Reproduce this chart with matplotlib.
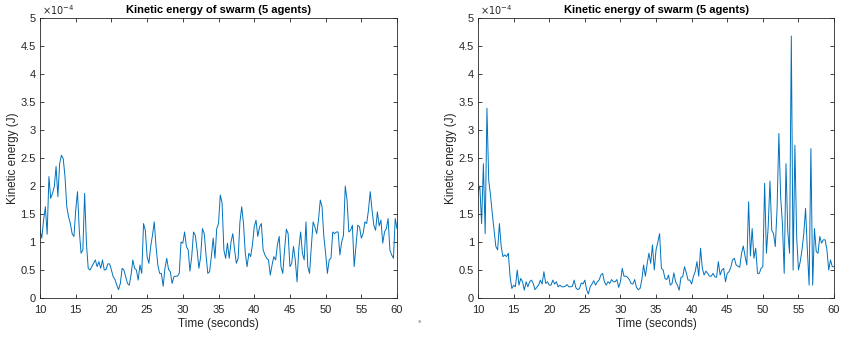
import numpy as np
import matplotlib
matplotlib.use("Agg")
import matplotlib.pyplot as plt
from matplotlib.ticker import FuncFormatter

# kinetic energy in units of 1e-4 J, sampled every 0.25 s from 10 s to 60 s
ke_left = [
    1.21, 1.07, 1.39, 1.63, 1.14, 2.17, 1.78, 1.87, 1.99, 2.35, 1.81, 2.4, 2.55,
    2.49, 2.17, 1.63, 1.45, 1.33, 1.15, 1.1, 1.57, 1.9, 1.21, 0.8, 0.86, 1.87,
    0.98, 0.53, 0.5, 0.56, 0.62, 0.68, 0.56, 0.65, 0.53, 0.68, 0.5, 0.51, 0.61,
    0.61, 0.5, 0.38, 0.33, 0.23, 0.15, 0.26, 0.53, 0.5, 0.38, 0.26, 0.23, 0.41,
    0.68, 0.53, 0.5, 0.32, 0.59, 0.44, 1.33, 1.21, 0.74, 0.62, 0.92, 1.12, 1.36,
    0.92, 0.59, 0.44,
    0.44, 0.21, 0.53, 0.71, 0.51, 0.47, 0.26, 0.38, 0.39, 0.39, 0.44, 1.0,
    0.98, 1.18, 0.92, 0.86, 0.48, 0.74, 1.18, 1.12, 0.86, 0.53, 0.74, 1.24,
    1.15, 0.77, 0.44, 0.47, 0.74, 1.07, 0.71, 1.24, 1.33, 1.84, 1.7, 0.86,
    0.71, 0.98, 0.71, 1.0, 1.15, 0.86, 0.62, 0.71, 1.36, 1.63, 1.33, 0.8,
    0.56, 0.8, 0.74, 0.95, 1.27, 1.39, 1.1, 1.27, 1.33, 0.86, 0.77, 0.71,
    0.68, 0.41, 0.59, 0.74, 0.68, 0.95, 1.1,
    0.56, 0.44, 0.86, 1.23, 1.15, 0.56, 0.62, 0.92, 0.68, 0.29, 0.89, 1.18, 0.8,
    0.68, 1.36, 0.56, 0.44, 0.92, 1.36, 1.27, 1.15, 1.39, 1.75, 1.63, 1.1,
    0.8, 0.44, 0.68, 0.71, 1.18, 1.15, 1.18, 1.18, 0.77, 1.0, 1.12, 2.0,
    1.75, 1.18, 1.21, 1.3, 0.56, 0.92, 1.3, 1.27, 1.07, 1.15, 1.36, 1.33,
    1.57, 1.9, 1.57, 1.3, 1.21, 1.54, 1.29, 1.39, 0.98, 1.18, 1.24, 1.42,
    0.86, 0.77, 0.71, 1.42, 1.24,
]

ke_right = [
    1.9, 2.0, 1.33, 2.4, 1.15, 3.39, 2.1, 1.84, 1.51, 1.21, 0.92, 0.86,
    1.33, 0.92, 0.74, 0.77, 0.74, 0.8, 0.38, 0.17, 0.23, 0.2, 0.5, 0.23,
    0.35, 0.29, 0.14, 0.29, 0.2, 0.29, 0.32, 0.26, 0.15, 0.19, 0.23, 0.32,
    0.25, 0.47, 0.26, 0.29, 0.23, 0.23, 0.32, 0.25, 0.29, 0.2, 0.23, 0.2,
    0.2, 0.21, 0.24, 0.2, 0.2, 0.21, 0.32, 0.18, 0.15, 0.17, 0.27, 0.25,
    0.32, 0.15, 0.07, 0.2, 0.25, 0.31,
    0.23, 0.29, 0.32, 0.41, 0.44, 0.29, 0.23, 0.29, 0.26, 0.33, 0.29, 0.29,
    0.33, 0.19, 0.29, 0.53, 0.39, 0.39, 0.37, 0.33, 0.26, 0.25, 0.33, 0.19,
    0.15, 0.17, 0.32, 0.59, 0.39, 0.61, 0.8, 0.62, 0.95, 0.5, 0.86, 1.0,
    1.15, 0.53, 0.5, 0.35, 0.33, 0.41, 0.23, 0.26, 0.45, 0.29, 0.23, 0.14,
    0.37, 0.38, 0.56, 0.45, 0.32, 0.32, 0.25, 0.39, 0.47, 0.65, 0.39, 0.89,
    0.53, 0.41, 0.48, 0.44, 0.39, 0.39, 0.44, 0.38, 0.37, 0.65,
    0.41, 0.5, 0.53, 0.29, 0.44, 0.47, 0.55, 0.68, 0.71, 0.59, 0.57, 0.55,
    0.79, 0.93, 0.75, 0.59, 1.72, 0.75, 1.24, 0.71, 0.89, 0.44, 0.44, 0.53,
    0.56, 2.05, 0.8, 1.27, 2.09, 1.21, 1.15, 0.92, 1.6, 2.94, 1.81, 1.33,
    0.44, 2.4, 1.2, 0.8, 4.68, 0.5, 2.73, 1.1, 0.5, 0.65, 0.86, 1.15,
    1.6, 0.86, 0.23, 2.67, 0.23, 1.24, 0.83, 0.8, 1.1, 0.98, 1.04, 1.04,
    0.86, 0.5, 0.68, 0.56, 0.56,
]

t_start, t_end = 10, 60
title = "Kinetic energy of swarm (5 agents)"

plt.rcParams['font.family'] = ['Liberation Sans', 'DejaVu Sans']
dark = "#262626"
blue = "#0072BD"

fig = plt.figure(figsize=(8.44, 3.38), dpi=100)
ax1 = fig.add_axes([0.0474, 0.1183, 0.423, 0.828])
ax2 = fig.add_axes([0.5664, 0.1183, 0.4218, 0.828])

for ax, ke in ((ax1, ke_left), (ax2, ke_right)):
    t = np.linspace(t_start, t_end, len(ke))
    ax.plot(t, np.array(ke) * 1e-4, color=blue, lw=0.7)
    ax.set_xlim(t_start, t_end)
    ax.set_ylim(0, 5e-4)
    ax.set_xticks(np.arange(10, 61, 5))
    ax.set_yticks(np.arange(0, 5.01e-4, 0.5e-4))
    ax.yaxis.set_major_formatter(FuncFormatter(lambda v, p: f"{v * 1e4:g}"))
    ax.tick_params(direction='in', length=3, width=0.6, top=True, right=True,
                   labelsize=8, colors=dark)
    ax.tick_params(axis='x', pad=5)
    ax.tick_params(axis='y', pad=3)
    for s in ax.spines.values():
        s.set_linewidth(0.6)
        s.set_color(dark)
    ax.set_xlabel("Time (seconds)", fontsize=8.5, color=dark, labelpad=2)
    ax.set_ylabel("Kinetic energy (J)", fontsize=8.5, color=dark, labelpad=1)
    ax.set_title(title, fontsize=8, fontweight='bold', color='black', pad=4)
    ax.text(0.005, 1.005, r"$\times10^{-4}$", transform=ax.transAxes,
            fontsize=7, color=dark, ha='left', va='bottom')

fig.text(0.497, 0.047, "\u2022", fontsize=7, color="#b0b0b0", ha='center', va='center')

plt.savefig("out.png", dpi=100)
